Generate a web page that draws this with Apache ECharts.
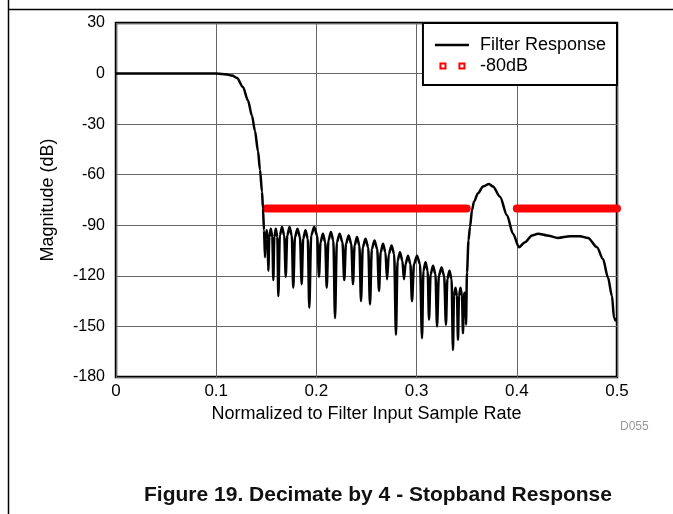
<!DOCTYPE html>
<html><head><meta charset="utf-8">
<script src="https://cdn.jsdelivr.net/npm/echarts@6/dist/echarts.min.js"></script>
<style>html,body{margin:0;padding:0;background:#fff}#c{width:673px;height:514px}</style>
</head><body><div id="c"></div>
<script>
// Normalized frequency (x) and magnitude in dB (y) of the filter response
const freq = [
  0, 0.05, 0.1, 0.106, 0.1108, 0.1158, 0.1208, 0.1267, 0.1317, 0.1357, 0.1387, 0.1417, 0.1437, 0.1457, 0.1467, 0.1477,
  0.1487, 0.1494, 0.1504, 0.1513,
  0.1520, 0.1530, 0.1545, 0.1560,
  0.1570, 0.1580, 0.1595, 0.1610,
  0.1620, 0.1635, 0.1657, 0.1679,
  0.1694, 0.1709, 0.1732, 0.1754,
  0.1769, 0.1786, 0.1811, 0.1836,
  0.1853, 0.1868, 0.1891, 0.1914,
  0.1929, 0.1948, 0.1978, 0.2007,
  0.2026, 0.2041, 0.2065, 0.2088,
  0.2103, 0.2120, 0.2145, 0.2169,
  0.2186, 0.2204, 0.2232, 0.2260,
  0.2278, 0.2295, 0.2322, 0.2348,
  0.2365, 0.2381, 0.2405, 0.2429,
  0.2445, 0.2463, 0.2490, 0.2517,
  0.2535, 0.2553, 0.2580, 0.2607,
  0.2625, 0.2641, 0.2665, 0.2689,
  0.2705, 0.2723, 0.2750, 0.2776,
  0.2794, 0.2810, 0.2834, 0.2858,
  0.2874, 0.2890, 0.2914, 0.2938,
  0.2954, 0.2974, 0.3004, 0.3034,
  0.3054, 0.3068, 0.3089, 0.3110,
  0.3124, 0.3140, 0.3164, 0.3188,
  0.3204, 0.3222, 0.3249, 0.3275,
  0.3293, 0.3307, 0.3328, 0.3349,
  0.3363, 0.3373, 0.3388, 0.3403,
  0.3413, 0.3423, 0.3438, 0.3453,
  0.3463, 0.3469, 0.3478, 0.3487,
  0.3493, 0.3503, 0.3518, 0.3533, 0.3553, 0.3573, 0.3613, 0.3663, 0.3723, 0.3762, 0.3832, 0.3902, 0.3962,
  0.4022, 0.4082, 0.4152, 0.4212, 0.4301, 0.4411, 0.4531, 0.4631, 0.4711, 0.4800, 0.4860, 0.4910, 0.4950, 0.4970, 0.4990
];
const mag = [
  0, 0, 0, -0.2, -0.6, -1.2, -2.6, -8, -16, -25, -34, -46, -57, -70, -80, -93,
  -109, -98, -93, -98,
  -117, -97, -92, -97,
  -122.5, -97, -92, -97,
  -132, -96, -91, -96,
  -120.5, -96, -91, -96,
  -127, -97, -92, -97,
  -125, -98, -93, -98,
  -139, -96, -91, -96,
  -120.5, -100, -95, -100,
  -127, -99, -94, -99,
  -145, -100, -95, -100,
  -122.5, -101, -96, -101,
  -125, -102, -97, -102,
  -135, -103, -98, -103,
  -137, -104, -99, -104,
  -129, -106, -101, -106,
  -122, -107, -102, -107,
  -155, -111, -106, -111,
  -122, -113, -108, -113,
  -135, -113, -108, -113,
  -157, -117, -112, -117,
  -146, -119, -114, -119,
  -150, -120, -115, -120,
  -149, -122, -117, -122,
  -164, -132, -127, -132,
  -158, -132, -127, -132,
  -154, -134, -130, -134,
  -149, -118, -99, -91, -81, -76, -71, -67, -65.5, -67, -73, -84, -95,
  -103, -100, -96, -95, -96, -97.5, -96.5, -96.5, -97.5, -103, -110, -121, -132, -145, -147
];
// -80 dB stopband limit segments
const limitBandA = [0.15, 0.35];
const limitBandB = [0.4, 0.5];
const limitLevel = -80;
// axis ticks
const xTicks = [0, 0.1, 0.2, 0.3, 0.4, 0.5];
const yTicks = [-180, -150, -120, -90, -60, -30, 0, 30];

const FONT = 'Liberation Sans, Arial, sans-serif';
const chart = echarts.init(document.getElementById('c'), null, {renderer: 'canvas'});
const respData = freq.map((f, i) => [f, mag[i]]);
const limA = limitBandA.map(f => [f, limitLevel]);
const limB = limitBandB.map(f => [f, limitLevel]);

chart.setOption({
  animation: false,
  backgroundColor: '#fff',
  grid: {left: 116, right: 56, top: 23, bottom: 137, show: true, borderColor: '#000', borderWidth: 2.5, backgroundColor: 'transparent'},
  xAxis: {
    type: 'value', min: xTicks[0], max: xTicks[xTicks.length - 1], interval: 0.1,
    name: 'Normalized to Filter Input Sample Rate', nameLocation: 'middle', nameGap: 28,
    nameTextStyle: {fontFamily: FONT, fontSize: 18, color: '#000'},
    axisLine: {show: false}, axisTick: {show: false},
    axisLabel: {fontFamily: FONT, fontSize: 17, color: '#000', margin: 6},
    splitLine: {show: true, lineStyle: {color: '#666', width: 1}}
  },
  yAxis: {
    type: 'value', min: yTicks[0], max: yTicks[yTicks.length - 1], interval: 30,
    name: 'Magnitude (dB)', nameLocation: 'middle', nameGap: 59,
    nameTextStyle: {fontFamily: FONT, fontSize: 18, color: '#000'},
    axisLine: {show: false}, axisTick: {show: false},
    axisLabel: {fontFamily: FONT, fontSize: 16, color: '#000', margin: 11},
    splitLine: {show: true, lineStyle: {color: '#666', width: 1}}
  },
  legend: {
    orient: 'vertical', right: 56, top: 23,
    padding: [13, 11, 10, 11], itemGap: 3, itemWidth: 34, itemHeight: 16,
    backgroundColor: '#fff', borderColor: '#000', borderWidth: 2, borderRadius: 0,
    textStyle: {fontFamily: FONT, fontSize: 18, color: '#000', lineHeight: 16, padding: [0, 0, 0, 6]},
    data: [
      {name: 'Filter Response', icon: 'path://M0,0M34,16M0,6.75h34v2.5h-34z', itemStyle: {color: '#000', borderWidth: 0}},
      {name: '-80dB', icon: 'path://M0,0M34,16M5.5,5.5h5v5h-5z M24.5,5.5h5v5h-5z', itemStyle: {color: '#fff', borderColor: '#ff0000', borderWidth: 2}}
    ]
  },
  series: [
    {name: '-80dB', type: 'line', data: limA, symbol: 'none', color: '#ff0000',
     lineStyle: {color: '#ff0000', width: 8, cap: 'round'}, z: 2},
    {name: '-80dB', type: 'line', data: limB, symbol: 'none', color: '#ff0000',
     lineStyle: {color: '#ff0000', width: 8, cap: 'round'}, z: 2},
    {name: 'Filter Response', type: 'line', data: respData, symbol: 'none', color: '#000',
     smooth: 0.3, smoothMonotone: 'x',
     lineStyle: {color: '#000', width: 2.5, join: 'round'}, z: 3}
  ],
  graphic: [
    {type: 'line', shape: {x1: 8.5, y1: 0, x2: 8.5, y2: 514}, style: {stroke: '#000', lineWidth: 1.5}, silent: true},
    {type: 'line', shape: {x1: 8, y1: 9.5, x2: 673, y2: 9.5}, style: {stroke: '#000', lineWidth: 1.5}, silent: true},
    {type: 'text', left: 620, top: 421, style: {text: 'D055', fontFamily: FONT, fontSize: 12, fill: '#999'}},
    {type: 'text', x: 378, y: 495, style: {text: 'Figure 19. Decimate by 4 - Stopband Response', fontFamily: FONT, fontSize: 21, fontWeight: 'bold', fill: '#111', align: 'center', verticalAlign: 'middle'}}
  ]
});
</script></body></html>
